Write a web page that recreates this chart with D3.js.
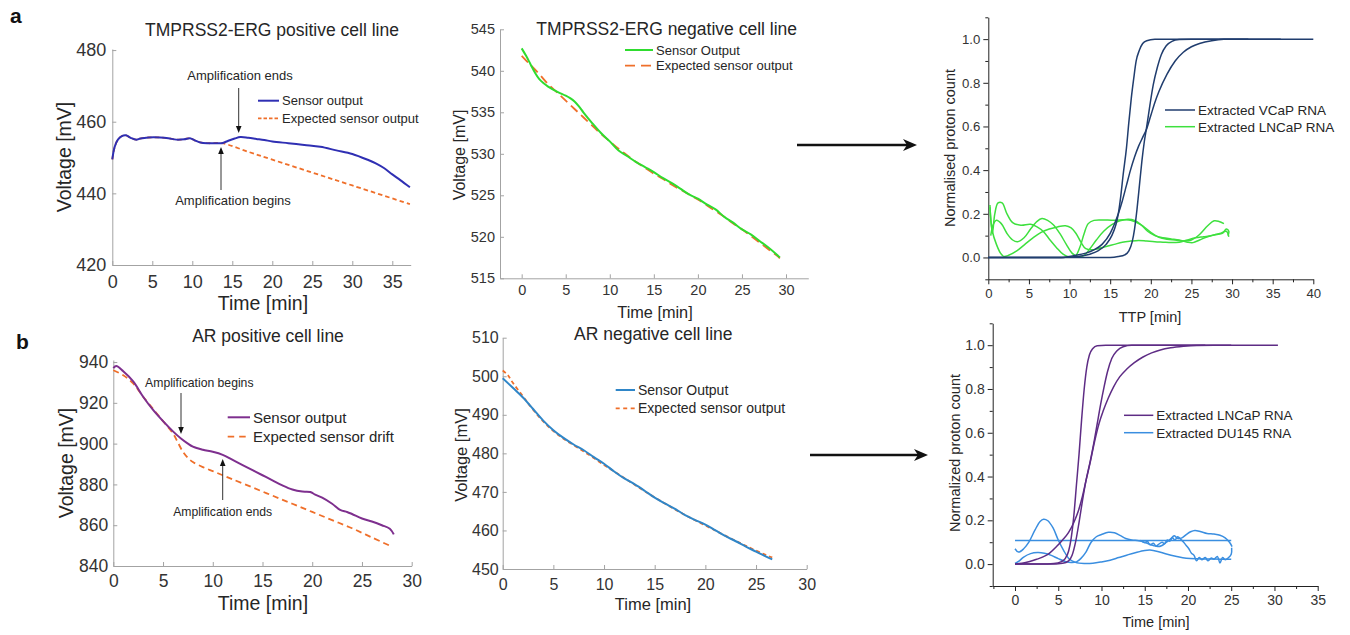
<!DOCTYPE html>
<html><head><meta charset="utf-8">
<script src="https://cdn.jsdelivr.net/npm/d3@7"></script>
<style>body{margin:0;background:#fff}svg{display:block}</style>
</head><body><svg id="c" width="1350" height="635"></svg>
<script>
// ---------- DATA ----------
// Panel a-left: TMPRSS2-ERG positive
const p1Sensor = [[0,449.5],[0.3,453],[0.7,455],[1.2,456],[1.7,456.2],[2.3,455.5],[3,455],[3.5,455.3],[4.5,455.6],[6,455.6],[7,455.4],[8,455],[9,455.1],[9.7,455.4],[10.3,454.8],[11,454.2],[12,454],[13,454],[13.7,454],[14.5,454.7],[15.3,455.3],[16,455.7],[17,455.5],[18,455.2],[19,454.9],[20,454.5],[22,454],[24,453.5],[26,453],[28,452],[30,451],[32,449.3],[33,448.3],[34,447],[35,445.3],[36,443.7],[37.2,441.7]];
const p1Expected = [[0,449.5],[0.3,453],[0.7,455],[1.2,456],[1.7,456.2],[2.3,455.5],[3,455],[3.5,455.3],[4.5,455.6],[6,455.6],[7,455.4],[8,455],[9,455.1],[9.7,455.4],[10.3,454.8],[11,454.2],[12,454],[13.7,454],[17,451.6],[20,449.4],[25,445.8],[30,442.2],[37.2,437]];
const p1XTicks = [0,5,10,15,20,25,30,35];
const p1YTicks = [420,440,460,480];

// Panel a-middle: TMPRSS2-ERG negative
const p2Sensor = [[0,542.7],[0.5,541.8],[1,540.8],[1.5,539.8],[2,539],[2.5,538.5],[3,538.1],[4,537.5],[5,537],[5.5,536.7],[6,536.3],[6.5,535.7],[7,535],[8,533.7],[9,532.5],[10,531.5],[11,530.4],[12,529.7],[13,529],[14,528.4],[15,527.8],[16,527.1],[17,526.5],[18,525.8],[19,525.1],[20,524.6],[21,523.9],[22,523.3],[23,522.4],[24,521.7],[25,520.9],[26,520.3],[27,519.5],[28,518.7],[29,517.8],[29.3,517.5]];
const p2Expected = [[0,541.8],[1,540.7],[2,539.6],[3,538.4],[4,537.4],[5,536.4],[6,535.4],[7,534.4],[8,533.4],[9,532.4],[10,531.5],[11,530.6],[12,529.8],[13,529],[14,528.3],[15,527.6],[16,527],[17,526.3],[18,525.7],[19,525.1],[20,524.5],[21,523.8],[22,523.1],[23,522.4],[24,521.6],[25,520.9],[26,520.1],[27,519.3],[28,518.5],[29,517.7],[29.3,517.4]];
const p2XTicks = [0,5,10,15,20,25,30];
const p2YTicks = [515,520,525,530,535,540,545];

// Panel a-right: normalised proton count vs TTP
const p3VCaP1 = [[0,0],[9,0],[11,0.005],[12.5,0.015],[13.5,0.03],[14.5,0.06],[15.2,0.1],[15.7,0.15],[16,0.2],[16.3,0.28],[16.6,0.38],[17,0.5],[17.3,0.62],[17.6,0.73],[17.9,0.82],[18.2,0.9],[18.6,0.95],[19,0.98],[19.5,0.993],[20.5,0.999],[22,1],[32,1]];
const p3VCaP2 = [[0,0],[15,0],[16,0.004],[16.8,0.012],[17.3,0.03],[17.7,0.07],[18,0.13],[18.3,0.22],[18.6,0.33],[18.9,0.44],[19.2,0.53],[19.5,0.6],[19.9,0.7],[20.3,0.79],[20.8,0.87],[21.3,0.93],[21.9,0.97],[22.6,0.99],[23.5,0.998],[25,1],[36,1]];
const p3VCaP3 = [[0,0],[9,0],[10.5,0.008],[12,0.02],[13,0.035],[14,0.06],[15,0.11],[15.6,0.16],[16,0.2],[16.5,0.26],[17,0.33],[17.5,0.4],[18,0.46],[18.5,0.51],[19,0.55],[19.5,0.59],[20,0.65],[20.5,0.71],[21,0.76],[22,0.84],[23,0.9],[24,0.94],[25,0.965],[26,0.98],[27.5,0.993],[29,0.999],[31,1],[40,1]];
const p3LNCaP1 = [[0.2,0.24],[0.5,0.11],[0.8,0.2],[1.2,0.25],[1.7,0.25],[2.3,0.2],[3,0.16],[4,0.148],[5.2,0.152],[6,0.14],[6.8,0.118],[7.6,0.08],[8.4,0.045],[9.2,0.015],[10,0.002],[10.7,0.005],[11.3,0.05],[11.8,0.11],[12.3,0.155],[13,0.17],[14,0.172],[15.5,0.17],[17,0.173],[18,0.165],[19,0.145],[20,0.115],[21,0.092],[22,0.083],[23,0.08],[24,0.075],[25,0.08],[26,0.105],[27,0.145],[27.8,0.168],[28.4,0.165],[29,0.155]];
const p3LNCaP2 = [[0.3,0.1],[0.6,0.15],[1,0.17],[1.6,0.155],[2.3,0.11],[3,0.08],[3.6,0.072],[4.4,0.09],[5.2,0.13],[6,0.165],[6.6,0.178],[7.3,0.17],[8,0.15],[8.8,0.11],[9.6,0.06],[10.3,0.02],[11,0.004],[11.8,0.01],[12.5,0.04],[13.3,0.08],[14.2,0.12],[15.2,0.15],[16.2,0.168],[17.2,0.175],[18,0.17],[18.8,0.15],[19.6,0.12],[20.5,0.1],[21.5,0.09],[22.5,0.085],[23.5,0.08],[24.5,0.07],[25.2,0.068],[26,0.08],[27,0.095],[28,0.105],[28.8,0.11],[29.3,0.13],[29.6,0.12],[29.5,0.1]];
const p3LNCaP3 = [[0.2,0.23],[0.5,0.12],[1,0.06],[1.5,0.02],[1.9,0.005],[2.5,0.01],[3.5,0.03],[4.5,0.06],[5.5,0.09],[6.5,0.115],[7.5,0.13],[8.5,0.14],[9.5,0.145],[10.2,0.135],[10.8,0.11],[11.4,0.07],[12,0.04],[12.8,0.035],[13.5,0.04],[14.5,0.05],[15.5,0.06],[16.5,0.07],[17.5,0.075],[18.5,0.078],[19.5,0.075],[20.5,0.072],[21.5,0.07],[22.5,0.068],[23.5,0.07],[24.5,0.08],[25.5,0.09],[26.5,0.095],[27.5,0.1],[28.5,0.11],[29.3,0.12],[29.6,0.095]];
const p3XTicks = [0,5,10,15,20,25,30,35,40];
const p3XMinor = [2.5,7.5,12.5,17.5,22.5,27.5,32.5,37.5];
const p3YTicks = [0,0.2,0.4,0.6,0.8,1.0];
const p3YMinor = [-0.1,0.1,0.3,0.5,0.7,0.9,1.1];

// Panel b-left: AR positive
const p4Sensor = [[0,937],[0.3,938],[1,935.5],[2,930.5],[3,923],[4,916.5],[5,911],[6,906],[6.8,902.5],[7.5,900],[8,898.5],[9,897],[10,896],[11,894.5],[12,892],[13,889.5],[14,887],[15,884.5],[16,882],[17,879.5],[18,877.5],[19,876.5],[19.8,876.3],[20.3,875],[21,873.5],[22,870.5],[22.8,867.5],[23.5,866.5],[24,865.5],[25,863.3],[26,861.8],[27,860],[27.8,858.3],[28.2,855.5]];
const p4Expected = [[0,936],[1,933.5],[2,929.5],[3,923],[4,917],[5,911],[6,905],[6.5,900.5],[7,896],[7.5,893],[8,891],[9,888.5],[10,886.5],[11,884.5],[12,882.5],[14,878.5],[16,874.5],[18,870.5],[20,866.5],[22,862.5],[24,858.5],[26,854],[28,849.5]];
const p4XTicks = [0,5,10,15,20,25,30];
const p4YTicks = [840,860,880,900,920,940];

// Panel b-middle: AR negative
const p5Sensor = [[0,499.5],[1,497],[2,494.5],[3,491.5],[4,488.5],[5,486],[6,484],[7,482.3],[8,480.8],[9,479],[10,477.3],[11,475.3],[12,473.5],[13,472],[14,470.3],[15,468.5],[16,467],[17,465.6],[18,464],[19,462.7],[20,461.5],[21,460],[22,458.5],[23,457.2],[24,455.8],[25,454.5],[26,453.2],[26.6,452.5]];
const p5Expected = [[0,501.5],[0.5,500.3],[1,498.3],[2,494.8],[3,491.3],[4,488.3],[5,485.8],[6,483.8],[8,480.5],[10,477],[12,473.6],[14,470.2],[16,467],[18,464],[20,461.3],[22,458.6],[24,456],[26,453.6],[26.6,453]];
const p5XTicks = [0,5,10,15,20,25,30];
const p5YTicks = [450,460,470,480,490,500,510];

// Panel b-right: normalized proton count vs time
const p6LNCaP1 = [[0,0],[3,0],[4.5,0.003],[5.3,0.01],[5.8,0.025],[6.2,0.06],[6.5,0.12],[6.8,0.22],[7.1,0.36],[7.4,0.5],[7.7,0.66],[8,0.8],[8.3,0.9],[8.6,0.955],[9,0.985],[9.5,0.997],[10.5,1],[22,1]];
const p6LNCaP2 = [[0,0],[4,0],[5.5,0.004],[6.2,0.015],[6.6,0.04],[7,0.1],[7.4,0.19],[7.8,0.29],[8.2,0.38],[8.7,0.47],[9.1,0.55],[9.5,0.64],[9.9,0.73],[10.3,0.81],[10.7,0.88],[11.2,0.94],[11.8,0.975],[12.5,0.993],[13.5,1],[25,1]];
const p6LNCaP3 = [[0,0],[0.8,0.004],[1.7,0.012],[2.5,0.022],[3.3,0.034],[4,0.05],[4.8,0.08],[5.5,0.11],[6.2,0.145],[6.8,0.19],[7.3,0.24],[7.8,0.31],[8.2,0.38],[8.67,0.46],[9.2,0.56],[9.7,0.64],[10.2,0.7],[10.8,0.76],[11.4,0.81],[12.1,0.855],[12.9,0.89],[13.8,0.92],[14.8,0.946],[15.8,0.965],[16.8,0.978],[18,0.988],[19.5,0.995],[21,0.999],[23,1],[30.4,1]];
const p6DU145a = [[0,0.108],[25,0.108]];
const p6DU145b = [[0,0.07],[0.4,0.055],[1,0.07],[1.6,0.1],[2.3,0.155],[2.9,0.195],[3.3,0.205],[3.8,0.198],[4.4,0.165],[5,0.11],[5.6,0.064],[6.3,0.022],[7,0.008],[8,0.003],[9,0.004],[10,0.01],[11,0.018],[12,0.03],[13,0.042],[14,0.053],[15,0.062],[15.6,0.064],[16.5,0.058],[17.5,0.046],[18.7,0.035],[19.8,0.027],[21,0.024],[23,0.023],[25,0.022]];
const p6DU145c = [[0,0.003],[0.5,0.015],[1,0.032],[1.8,0.048],[2.6,0.053],[3.4,0.05],[4.2,0.04],[5,0.025],[5.8,0.012],[6.5,0.007],[7.1,0.01],[7.6,0.025],[8.2,0.055],[8.8,0.1],[9.4,0.125],[10,0.135],[10.8,0.145],[11.5,0.143],[12.2,0.13],[12.8,0.117],[13.5,0.11],[14.3,0.107],[15,0.1],[15.5,0.092],[16,0.085],[16.5,0.08],[17,0.085],[17.5,0.1],[18,0.115],[18.4,0.13],[18.8,0.118],[19.3,0.12],[19.8,0.135],[20.3,0.148],[20.8,0.154],[21.5,0.148],[22.2,0.14],[23,0.137],[23.7,0.132],[24.3,0.12],[24.8,0.1],[25.1,0.08]];
const p6DU145d = [[14.5,0.108],[15,0.098],[15.3,0.104],[15.6,0.088],[16,0.095],[16.3,0.083],[16.6,0.09],[17,0.1],[17.3,0.093],[17.6,0.11],[17.9,0.105],[18.2,0.12],[18.5,0.11],[18.8,0.125],[19.2,0.112],[19.5,0.1],[19.8,0.085],[20.1,0.07],[20.4,0.05],[20.7,0.04],[21,0.015],[21.3,0.03],[21.6,0.02],[22,0.03],[22.3,0.015],[22.7,0.028],[23,0.022],[23.4,0.035],[23.7,0.005],[24,0.03],[24.3,0.02],[24.7,0.03],[25,0.045],[25.05,0.075]];
const p6XTicks = [0,5,10,15,20,25,30,35];
const p6XMinor = [-2.5,2.5,7.5,12.5,17.5,22.5,27.5,32.5];
const p6YTicks = [0,0.2,0.4,0.6,0.8,1.0];
const p6YMinor = [-0.1,0.1,0.3,0.5,0.7,0.9,1.1];

// ---------- DRAWING ----------
const FONT = '"Liberation Sans", Arial, Helvetica, sans-serif';
const svg = d3.select("#c");
const ORANGE = "#ef6f2a";

function panel(xd, xr, yd, yr) {
  return {g: svg.append("g"), x: d3.scaleLinear().domain(xd).range(xr), y: d3.scaleLinear().domain(yd).range(yr)};
}
function styleAxis(a, col, txt, fs) {
  a.select(".domain").attr("stroke", col).attr("stroke-width", 1);
  a.selectAll(".tick line").attr("stroke", col);
  a.selectAll("text").attr("fill", txt).attr("font-size", fs).attr("font-family", FONT);
}
function matlabAxes(p, xt, yt, fs, xpad, ypad) {
  const ax = p.g.append("g").attr("transform", `translate(0,${p.y.range()[0]})`)
    .call(d3.axisBottom(p.x).tickValues(xt).tickSizeInner(-4).tickSizeOuter(0).tickPadding(xpad));
  const ay = p.g.append("g").attr("transform", `translate(${p.x.range()[0]},0)`)
    .call(d3.axisLeft(p.y).tickValues(yt).tickSizeInner(-4).tickSizeOuter(0).tickPadding(ypad));
  styleAxis(ax, "#a3a3a3", "#333", fs); styleAxis(ay, "#a3a3a3", "#333", fs);
}
function originAxes(p, xt, xm, yt, ym, fs) {
  const by = p.y.range()[0], lx = p.x.range()[0];
  const mx = p.g.append("g").attr("transform", `translate(0,${by})`)
    .call(d3.axisBottom(p.x).tickValues(xm).tickSize(3).tickFormat(""));
  mx.select(".domain").remove(); mx.selectAll("line").attr("stroke", "#222");
  const my = p.g.append("g").attr("transform", `translate(${lx},0)`)
    .call(d3.axisLeft(p.y).tickValues(ym).tickSize(3).tickFormat(""));
  my.select(".domain").remove(); my.selectAll("line").attr("stroke", "#222");
  const ax = p.g.append("g").attr("transform", `translate(0,${by})`)
    .call(d3.axisBottom(p.x).tickValues(xt).tickSizeInner(5).tickSizeOuter(0).tickPadding(4));
  const ay = p.g.append("g").attr("transform", `translate(${lx},0)`)
    .call(d3.axisLeft(p.y).tickValues(yt).tickFormat(d3.format(".1f")).tickSizeInner(5).tickSizeOuter(0).tickPadding(3));
  styleAxis(ax, "#222", "#333", fs); styleAxis(ay, "#222", "#333", fs);
}
function line(p, data, color, w, dash, curve) {
  const gen = d3.line().x(d => p.x(d[0])).y(d => p.y(d[1])).curve(curve || d3.curveCatmullRom.alpha(0.5));
  p.g.append("path").datum(data).attr("d", gen).attr("fill", "none").attr("stroke", color)
    .attr("stroke-width", w).attr("stroke-dasharray", dash || null).attr("stroke-linejoin", "round");
}
function text(x, y, s, fs, opts) {
  opts = opts || {};
  const t = svg.append("text").attr("x", x).attr("y", y).text(s).attr("font-size", fs)
    .attr("font-family", FONT).attr("fill", opts.fill || "#262626")
    .attr("text-anchor", opts.anchor || "middle").attr("font-weight", opts.weight || "normal");
  if (opts.rot) t.attr("transform", `rotate(-90,${x},${y})`);
  return t;
}
function legendItem(x1, x2, y, color, w, dash, label, fs) {
  svg.append("line").attr("x1", x1).attr("x2", x2).attr("y1", y).attr("y2", y)
    .attr("stroke", color).attr("stroke-width", w).attr("stroke-dasharray", dash || null);
  text(x2 + 3, y + fs * 0.36, label, fs, {anchor: "start"});
}
function vArrow(x, yFrom, yTo) {
  const dir = yTo > yFrom ? 1 : -1;
  svg.append("line").attr("x1", x).attr("x2", x).attr("y1", yFrom).attr("y2", yTo - dir * 5)
    .attr("stroke", "#333").attr("stroke-width", 1);
  svg.append("path").attr("d", `M${x},${yTo} L${x - 2.8},${yTo - dir * 7} L${x + 2.8},${yTo - dir * 7} Z`).attr("fill", "#111");
}
function bigArrow(x1, x2, y) {
  svg.append("line").attr("x1", x1).attr("x2", x2 - 6).attr("y1", y).attr("y2", y).attr("stroke", "#111").attr("stroke-width", 2.6);
  svg.append("path").attr("d", `M${x2},${y} L${x2 - 14},${y - 6} L${x2 - 10},${y} L${x2 - 14},${y + 6} Z`).attr("fill", "#111");
}

// Panel 1
const P1 = panel([0, 37.3], [112.3, 410.7], [420, 480.3], [265, 49]);
matlabAxes(P1, p1XTicks, p1YTicks, 18, 10, 6);
line(P1, p1Expected, ORANGE, 1.8, "4.5,3");
line(P1, p1Sensor, "#2f2fb3", 2);
text(272, 36, "TMPRSS2-ERG positive cell line", 17.5);
text(71, 157, "Voltage [mV]", 19.5, {rot: true});
text(263, 310, "Time [min]", 19.5);
text(240, 79.5, "Amplification ends", 13);
vArrow(238.7, 88, 133);
text(233, 204.5, "Amplification begins", 13);
vArrow(221, 190, 147);
legendItem(258, 279, 100.7, "#2f2fb3", 2, null, "Sensor output", 13);
legendItem(258, 279, 118.3, ORANGE, 1.8, "3.5,2", "Expected sensor output", 13);
text(10, 23, "a", 21, {anchor: "start", weight: "bold", fill: "#111"});

// Panel 2
const P2 = panel([-2.46, 32.53], [500, 808.3], [515, 545], [278.3, 29.3]);
matlabAxes(P2, p2XTicks, p2YTicks, 14.5, 6.5, 5);
line(P2, p2Expected, ORANGE, 1.8, "9,5");
line(P2, p2Sensor, "#2fdc2f", 2);
text(666.7, 35, "TMPRSS2-ERG negative cell line", 17.5);
text(465, 155, "Voltage [mV]", 16, {rot: true});
text(655, 318, "Time [min]", 16.3);
legendItem(625, 653, 50, "#2fdc2f", 2, null, "Sensor Output", 13);
legendItem(625, 653, 65.7, ORANGE, 1.8, "10,6", "Expected sensor output", 13);

// Panel 3
const P3 = panel([0, 40], [988.3, 1313.3], [-0.1, 1.1], [279.3, 17.3]);
originAxes(P3, p3XTicks, p3XMinor, p3YTicks, p3YMinor, 13.2);
[p3LNCaP1, p3LNCaP2, p3LNCaP3].forEach(d => line(P3, d, "#3ee03e", 1.5));
[p3VCaP1, p3VCaP2, p3VCaP3].forEach(d => line(P3, d, "#203d6e", 1.5, null, d3.curveMonotoneX));
text(955, 148, "Normalised proton count", 14.5, {rot: true});
text(1150, 322, "TTP [min]", 14.5);
legendItem(1165, 1195, 110, "#203d6e", 1.5, null, "Extracted VCaP RNA", 13.5);
legendItem(1165, 1195, 126.7, "#3ee03e", 1.5, null, "Extracted LNCaP RNA", 13.5);
bigArrow(797, 917, 145);

// Panel 4
const P4 = panel([0, 30], [113.3, 411.7], [840, 941], [566, 360]);
matlabAxes(P4, p4XTicks, p4YTicks, 17.5, 9, 5);
line(P4, p4Expected, ORANGE, 1.8, "6,4");
line(P4, p4Sensor, "#7e2f8e", 2);
text(268, 342, "AR positive cell line", 17.5);
text(73, 463, "Voltage [mV]", 19.5, {rot: true});
text(263, 609.5, "Time [min]", 19.5);
text(199.3, 386.5, "Amplification begins", 12.2);
vArrow(181, 393, 434);
text(222.7, 515.5, "Amplification ends", 12.2);
vArrow(222.7, 500, 459);
legendItem(227.7, 250, 417.3, "#7e2f8e", 2, null, "Sensor output", 15);
legendItem(227.7, 250, 436.7, ORANGE, 1.8, "6.5,5", "Expected sensor drift", 15);
text(16, 349, "b", 21, {anchor: "start", weight: "bold", fill: "#111"});

// Panel 5
const P5 = panel([0, 30], [502.7, 806.7], [450, 510], [569, 337.7]);
matlabAxes(P5, p5XTicks, p5YTicks, 16, 10, 4);
line(P5, p5Expected, ORANGE, 1.8, "4,3");
line(P5, p5Sensor, "#2f86c8", 2);
text(653.3, 340, "AR negative cell line", 17.5);
text(467, 455, "Voltage [mV]", 16.5, {rot: true});
text(653, 610, "Time [min]", 16.5);
legendItem(615.7, 635, 390, "#2f86c8", 2, null, "Sensor Output", 14);
legendItem(615.7, 635, 408.3, ORANGE, 1.8, "4,3.5", "Expected sensor output", 14);

// Panel 6
const P6 = panel([-2.58, 35], [992.7, 1317.7], [-0.1, 1.1], [586, 323.3]);
originAxes(P6, p6XTicks, p6XMinor, p6YTicks, p6YMinor, 14);
[p6DU145a, p6DU145b, p6DU145c, p6DU145d].forEach(d => line(P6, d, "#3a8ee0", 1.5, null, d3.curveLinear === undefined ? null : (d.length > 2 ? d3.curveCatmullRom.alpha(0.5) : d3.curveLinear)));
[p6LNCaP1, p6LNCaP2, p6LNCaP3].forEach(d => line(P6, d, "#5e2c85", 1.5, null, d3.curveMonotoneX));
text(960, 453, "Normalized proton count", 14.5, {rot: true});
text(1156, 627, "Time [min]", 14.5);
legendItem(1124, 1153.3, 415.3, "#5e2c85", 1.5, null, "Extracted LNCaP RNA", 13.5);
legendItem(1124, 1153.3, 432.7, "#3a8ee0", 1.5, null, "Extracted DU145 RNA", 13.5);
bigArrow(810, 928, 455);
</script></body></html>
